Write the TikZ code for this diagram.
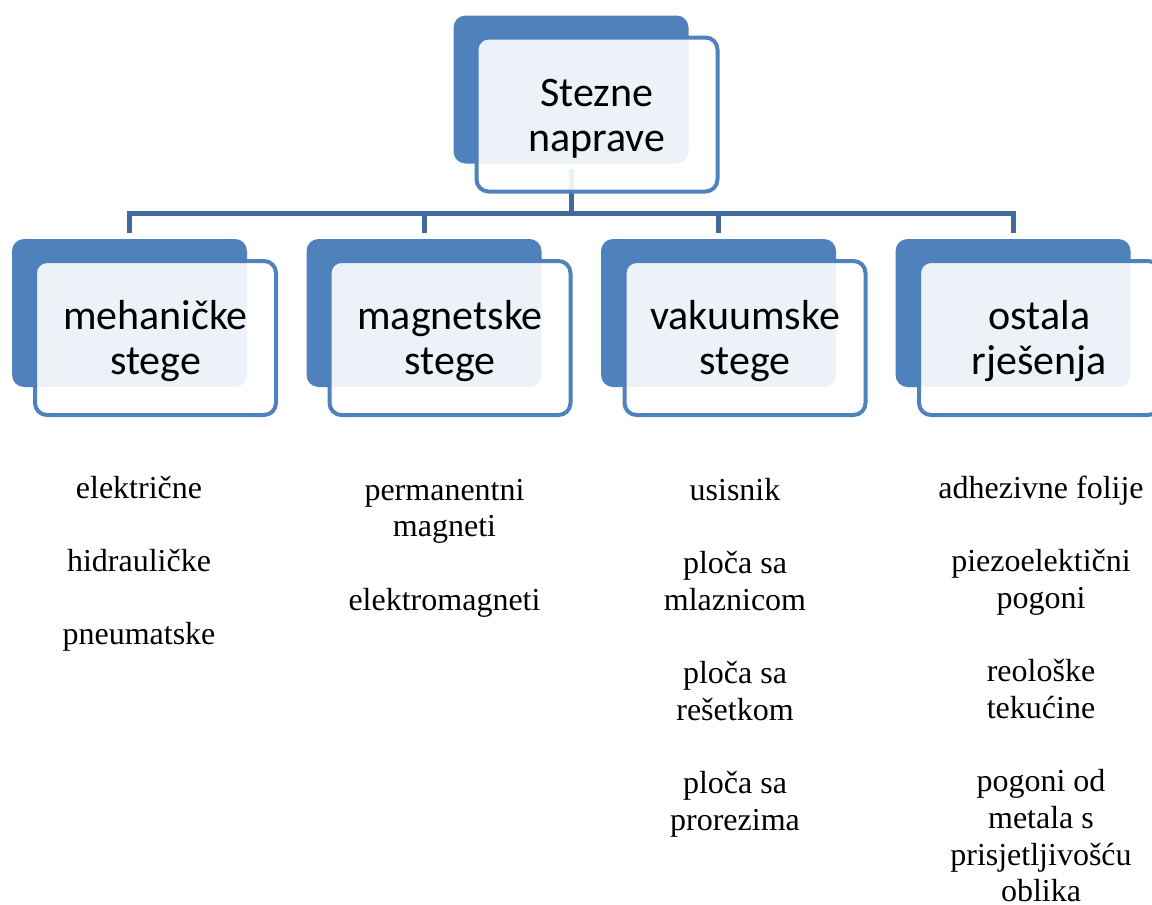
\documentclass[tikz,border=0pt]{standalone}
\usepackage{fontspec}
\setmainfont{Liberation Serif}
\newfontfamily\boxfont{Carlito}
\definecolor{accent}{HTML}{4F81BD}
\definecolor{connblue}{RGB}{65,105,156}
\newcommand{\topstrut}{\rule{0pt}{36pt}}
\begin{document}
\begin{tikzpicture}[x=1pt,y=-1pt,
  backbox/.style={rounded corners=12pt, fill=accent, draw=none, minimum width=235pt, minimum height=148pt, inner sep=0pt, outer sep=0pt},
  frontbox/.style={rounded corners=12pt, fill=white, fill opacity=0.9, text opacity=1, draw=accent, line width=4pt, minimum width=241pt, minimum height=154pt, inner sep=0pt, outer sep=0pt, align=center, font=\boxfont\fontsize{42}{45}\selectfont},
  conn/.style={draw=connblue, line width=5pt},
  listtext/.style={align=center, anchor=north, inner sep=0pt, font=\fontsize{32}{36.7}\selectfont}
]
\useasboundingbox (0,0) rectangle (1152,905);
% back boxes
\node[backbox] (b0) at (571,89.5) {};
\node[backbox] (b1) at (129.5,313) {};
\node[backbox] (b2) at (424,313) {};
\node[backbox] (b3) at (718.5,313) {};
\node[backbox] (b4) at (1013,313) {};
% connectors
\coordinate (hub) at (571,213.5);
\draw[conn] ([yshift=-5pt]b0.south) -- (hub);
\draw[conn] ([yshift=6pt]b1.north) |- (hub) -| ([yshift=6pt]b4.north);
\draw[conn] ([yshift=6pt]b2.north) -- (b2.north |- hub);
\draw[conn] ([yshift=6pt]b3.north) -- (b3.north |- hub);
% front boxes
\node[frontbox] (f0) at (597,114.5) {\topstrut Stezne\\naprave};
\node[frontbox] (f1) at (155.5,338) {\topstrut mehaničke\\stege};
\node[frontbox] (f2) at (450,338) {\topstrut magnetske\\stege};
\node[frontbox] (f3) at (745,338) {\topstrut vakuumske\\stege};
\node[frontbox] (f4) at (1039.5,338) {\topstrut ostala\\rješenja};
% lists
\node[listtext] (l1) at (139,472.3) {\strut električne\\[36.7pt]hidrauličke\\[36.7pt]pneumatske};
\node[listtext] (l2) at (444.5,474.3) {\strut permanentni\\magneti\\[36.7pt]elektromagneti};
\node[listtext] (l3) at (735,474.3) {\strut usisnik\\[36.7pt]ploča sa\\mlaznicom\\[36.7pt]ploča sa\\rešetkom\\[36.7pt]ploča sa\\prorezima};
\node[listtext] (l4) at (1041,472.3) {\strut adhezivne folije\\[36.7pt]piezoelektični\\pogoni\\[36.7pt]reološke\\tekućine\\[36.7pt]pogoni od\\metala s\\prisjetljivošću\\oblika};
\end{tikzpicture}
\end{document}
